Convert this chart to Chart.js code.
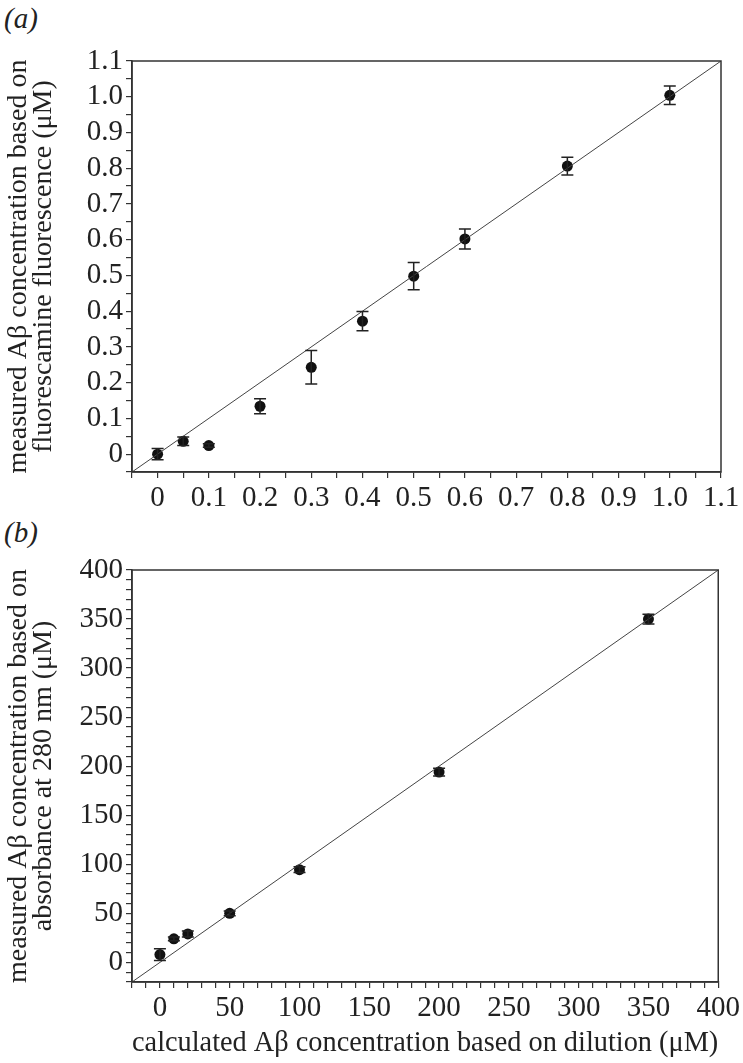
<!DOCTYPE html>
<html>
<head>
<meta charset="utf-8">
<script src="https://cdn.jsdelivr.net/npm/chart.js@4.4.1/dist/chart.umd.min.js"></script>
<style>
  html, body { margin: 0; padding: 0; background: #fff; }
  body { width: 743px; height: 1063px; position: relative; overflow: hidden; }
  .panel { position: absolute; left: 0; }
  .tag { position: absolute; left: 4px; font-family: "Liberation Serif", serif; font-style: italic; font-size: 29px; color: #222; line-height: 1; }
</style>
</head>
<body>
<div class="tag" style="top:4px;">(a)</div>
<div class="tag" style="top:518px;">(b)</div>
<div class="panel" style="top:0px;"><canvas id="cA" width="743" height="520"></canvas></div>
<div class="panel" style="top:520px;"><canvas id="cB" width="743" height="543"></canvas></div>
<script>
// ---------- panel (a) data ----------
const aX = [0, 0.05, 0.1, 0.2, 0.3, 0.4, 0.5, 0.6, 0.8, 1.0];
const aY = [0.0, 0.036, 0.024, 0.134, 0.243, 0.372, 0.498, 0.602, 0.806, 1.004];
const aErr = [0.016, 0.012, 0.005, 0.021, 0.047, 0.027, 0.038, 0.028, 0.025, 0.026];
const aMajorTicks = [0, 0.1, 0.2, 0.3, 0.4, 0.5, 0.6, 0.7, 0.8, 0.9, 1.0, 1.1];
const aTickLabels = ['0', '0.1', '0.2', '0.3', '0.4', '0.5', '0.6', '0.7', '0.8', '0.9', '1.0', '1.1'];
const aMinorTicks = [-0.05, 0.05, 0.15, 0.25, 0.35, 0.45, 0.55, 0.65, 0.75, 0.85, 0.95, 1.05];
const aRange = [-0.05, 1.1];
const aYTitle = ['measured A\u03b2 concentration based on', 'fluorescamine fluorescence (\u03bcM)'];

// ---------- panel (b) data ----------
const bX = [0, 10, 20, 50, 100, 200, 350];
const bY = [8, 24, 29, 50, 94.5, 194, 350];
const bErr = [6, 2, 3, 2.5, 3, 4, 5];
const bMajorTicks = [0, 50, 100, 150, 200, 250, 300, 350, 400];
const bTickLabels = ['0', '50', '100', '150', '200', '250', '300', '350', '400'];
const bMinorTicks = [-20, -10, 10, 20, 30, 40, 60, 70, 80, 90, 110, 120, 130, 140, 160, 170, 180, 190,
                     210, 220, 230, 240, 260, 270, 280, 290, 310, 320, 330, 340, 360, 370, 380, 390];
const bRange = [-20, 400];
const bYTitle = ['measured A\u03b2 concentration based on', 'absorbance at 280 nm (\u03bcM)'];
const bXTitle = 'calculated A\u03b2 concentration based on dilution (\u03bcM)';

const FONT = '"Liberation Serif", "Times New Roman", serif';
const INK = '#222';

const errorBarPlugin = {
  id: 'errbars',
  afterDatasetsDraw(chart, args, opts) {
    const ctx = chart.ctx, xs = chart.scales.x, ys = chart.scales.y;
    ctx.save();
    ctx.strokeStyle = INK;
    ctx.lineWidth = 1.5;
    const cap = 6;
    opts.x.forEach((xv, i) => {
      const px = xs.getPixelForValue(xv);
      const top = ys.getPixelForValue(opts.y[i] + opts.err[i]);
      const bot = ys.getPixelForValue(opts.y[i] - opts.err[i]);
      ctx.beginPath();
      ctx.moveTo(px, top); ctx.lineTo(px, bot);
      ctx.moveTo(px - cap, top); ctx.lineTo(px + cap, top);
      ctx.moveTo(px - cap, bot); ctx.lineTo(px + cap, bot);
      ctx.stroke();
    });
    ctx.restore();
  }
};
const boxPlugin = {
  id: 'box',
  afterDraw(chart) {
    const a = chart.chartArea, ctx = chart.ctx;
    ctx.save();
    ctx.strokeStyle = '#333';
    ctx.lineWidth = 1.5;
    ctx.strokeRect(a.left, a.top, a.right - a.left, a.bottom - a.top);
    ctx.restore();
  }
};

function axis(range, majors, labels, minors, opts) {
  const all = majors.concat(minors).sort((p, q) => p - q);
  return Object.assign({
    type: 'linear',
    min: range[0],
    max: range[1],
    afterBuildTicks(scale) { scale.ticks = all.map(v => ({ value: v })); },
    ticks: {
      autoSkip: false,
      maxRotation: 0,
      color: INK,
      padding: 3,
      font: { family: FONT, size: 29 },
      callback(v) {
        const k = majors.findIndex(m => Math.abs(m - v) < 1e-9);
        return k >= 0 ? labels[k] : '';
      }
    },
    grid: { drawOnChartArea: false, drawTicks: true, tickLength: 6, color: '#333', lineWidth: 1.2 },
    border: { display: true, color: '#333', width: 1.5 }
  }, opts);
}

function makeChart(id, px, py, pe, majors, labels, minors, range, yTitle, xTitle, padTop, xHeight) {
  const xOpts = {
    afterFit(s) { s.height = xHeight; }
  };
  if (xTitle) {
    xOpts.title = { display: true, text: xTitle, color: INK, font: { family: FONT, size: 29, lineHeight: 1.1 }, padding: { top: 0, bottom: 4 } };
  }
  const yOpts = {
    afterFit(s) { s.width = 132; },
    title: { display: true, text: yTitle, color: INK, font: { family: FONT, size: 28, lineHeight: 0.9 }, padding: { top: 6, bottom: 0 } }
  };
  return new Chart(document.getElementById(id), {
    type: 'scatter',
    data: {
      datasets: [
        {
          type: 'line',
          data: [{ x: range[0], y: range[0] }, { x: range[1], y: range[1] }],
          borderColor: '#444', borderWidth: 1, pointRadius: 0, fill: false
        },
        {
          data: px.map((v, i) => ({ x: v, y: py[i] })),
          backgroundColor: '#111', borderColor: '#111', pointRadius: 5.5, borderWidth: 0
        }
      ]
    },
    options: {
      responsive: false,
      animation: false,
      layout: { padding: { top: padTop, right: 22, left: 0, bottom: 0 } },
      plugins: {
        legend: { display: false },
        tooltip: { enabled: false },
        errbars: { x: px, y: py, err: pe }
      },
      scales: {
        x: axis(range, majors, labels, minors, xOpts),
        y: axis(range, majors, labels, minors, yOpts)
      }
    },
    plugins: [errorBarPlugin, boxPlugin]
  });
}

makeChart('cA', aX, aY, aErr, aMajorTicks, aTickLabels, aMinorTicks, aRange, aYTitle, null, 61, 48);
makeChart('cB', bX, bY, bErr, bMajorTicks, bTickLabels, bMinorTicks, bRange, bYTitle, bXTitle, 50, 81);
</script>
</body>
</html>
